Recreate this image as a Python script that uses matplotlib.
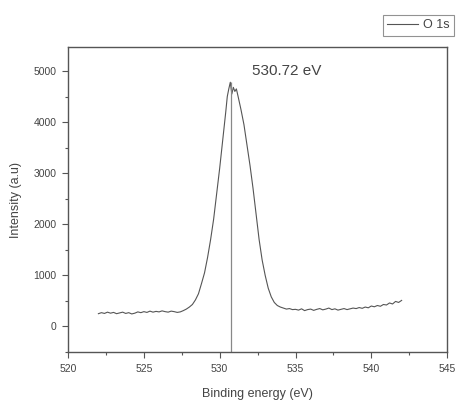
import matplotlib
matplotlib.use("Agg")
import matplotlib.pyplot as plt
from matplotlib.ticker import MultipleLocator

# O 1s XPS spectrum
energy = [
    522.0, 522.2, 522.4, 522.6, 522.8, 523.0, 523.2, 523.4, 523.6, 523.8,
    524.0, 524.2, 524.4, 524.6, 524.8, 525.0, 525.2, 525.4, 525.6, 525.8,
    526.0, 526.2, 526.4, 526.6, 526.8, 527.0, 527.2, 527.4, 527.6, 527.8,
    528.0, 528.2, 528.4, 528.6, 528.8, 529.0, 529.2, 529.4, 529.6, 529.8,
    530.0, 530.2, 530.4, 530.5, 530.6, 530.7, 530.8, 530.9, 531.0, 531.1,
    531.2, 531.4, 531.6, 531.8, 532.0, 532.2, 532.4, 532.6, 532.8, 533.0,
    533.2, 533.4, 533.6, 533.8, 534.0, 534.2, 534.4, 534.6, 534.8, 535.0,
    535.2, 535.4, 535.6, 535.8, 536.0, 536.2, 536.4, 536.6, 536.8, 537.0,
    537.2, 537.4, 537.6, 537.8, 538.0, 538.2, 538.4, 538.6, 538.8, 539.0,
    539.2, 539.4, 539.6, 539.8, 540.0, 540.2, 540.4, 540.6, 540.8, 541.0,
    541.2, 541.4, 541.6, 541.8, 542.0,
]
intensity = [
    250, 270, 255, 280, 260, 275, 250, 265, 280, 255,
    270, 245, 260, 285, 270, 290, 275, 300, 280, 295,
    285, 305, 290, 280, 300, 290, 275, 285, 310, 340,
    380, 430, 520, 640, 840, 1050, 1350, 1700, 2100, 2600,
    3100, 3650, 4200, 4500, 4650, 4780, 4550, 4680, 4600, 4650,
    4520, 4250, 3950, 3550, 3150, 2700, 2200, 1700, 1300, 1000,
    750, 580, 470, 410, 380, 360, 340, 350, 330, 335,
    320, 345, 310, 330, 340, 315, 335, 350, 325, 340,
    360, 330, 345, 320, 335, 350, 330, 345, 360, 350,
    370, 355, 380, 365, 400, 385, 410, 395, 430, 420,
    460, 440, 490, 470, 510,
]

peak_energy = 530.72
peak_top = 4780
peak_label = "530.72 eV"

plt.rcParams["font.family"] = ["Liberation Sans", "DejaVu Sans"]
axis_color = "#555555"
text_color = "#444444"

fig = plt.figure(figsize=(4.6, 4.0), dpi=100)
ax = fig.add_axes([0.148, 0.12, 0.824, 0.7625])

ax.plot(energy, intensity, color="#555555", linewidth=0.8, label="O 1s")
ax.vlines(peak_energy, -500, peak_top, color="#888888", linewidth=0.9)
ax.text(532.1, 5000, peak_label, ha="left", va="center", fontsize=11, color=text_color)

ax.set_xlim(520, 545)
ax.set_ylim(-500, 5470)
ax.xaxis.set_major_locator(MultipleLocator(5))
ax.xaxis.set_minor_locator(MultipleLocator(2.5))
ax.yaxis.set_major_locator(MultipleLocator(1000))
ax.yaxis.set_minor_locator(MultipleLocator(500))
ax.tick_params(which="both", direction="out", colors=axis_color, labelcolor=text_color,
               labelsize=7.5, top=False, right=False)
ax.tick_params(which="major", length=4, width=0.8, pad=4.5)
ax.tick_params(which="minor", length=2.5, width=0.8)
for sp in ax.spines.values():
    sp.set_color(axis_color)
    sp.set_linewidth(1.0)

ax.set_xlabel("Binding energy (eV)", fontsize=9, color=text_color, labelpad=10)
ax.set_ylabel("Intensity (a.u)", fontsize=9, color=text_color, labelpad=8)

leg = fig.legend(loc="upper left", bbox_to_anchor=(0.832, 0.963), fontsize=9,
                 frameon=True, fancybox=False, edgecolor="#777777",
                 borderaxespad=0, handlelength=2.5, borderpad=0.35,
                 handletextpad=0.4)
leg.get_frame().set_linewidth(0.8)
for t in leg.get_texts():
    t.set_color(text_color)

fig.savefig("out.png", dpi=100)
